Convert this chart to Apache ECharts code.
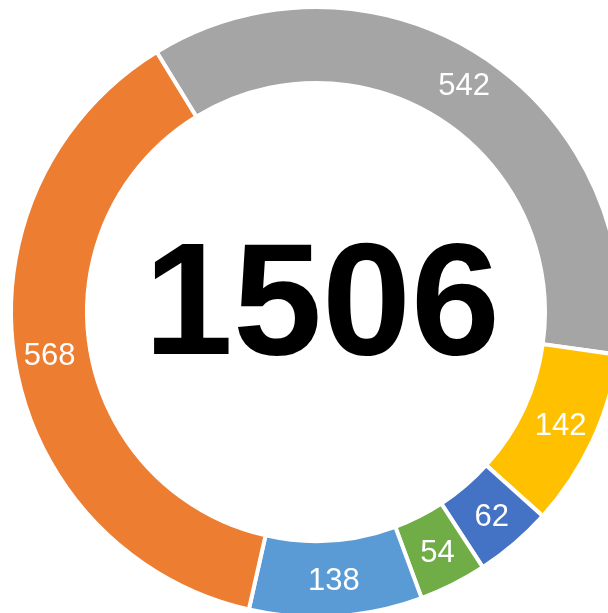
<!DOCTYPE html>
<html>
<head>
<meta charset="utf-8">
<script src="https://cdn.jsdelivr.net/npm/echarts@6/dist/echarts.min.js"></script>
<style>
  html, body { margin: 0; padding: 0; background: #fff; }
  #main { width: 608px; height: 613px; }
</style>
</head>
<body>
<div id="main"></div>
<script>
// donut slices, clockwise from the upper left
var categories = ['Part 1', 'Part 2', 'Part 3', 'Part 4', 'Part 5', 'Part 6'];
var values = [542, 142, 62, 54, 138, 568];
var colors = ['#A5A5A5', '#FFC000', '#4472C4', '#70AD47', '#5B9BD5', '#ED7D31'];
var totalLabel = '1506';

var myChart = echarts.init(document.getElementById('main'));

var pieData = categories.map(function (name, i) {
  return { name: name, value: values[i], itemStyle: { color: colors[i] } };
});

var option = {
  animation: false,
  graphic: [
    {
      type: 'text',
      x: 322,
      y: 310,
      silent: true,
      style: {
        text: totalLabel,
        textAlign: 'center',
        textVerticalAlign: 'middle',
        font: 'bold 160px "Liberation Sans", Arial, sans-serif',
        fill: '#000'
      }
    }
  ],
  series: [
    {
      type: 'pie',
      center: [316, 312],
      radius: [229, 305],
      startAngle: 121.5,
      clockwise: true,
      avoidLabelOverlap: false,
      silent: true,
      itemStyle: {
        borderColor: '#fff',
        borderWidth: 4
      },
      label: {
        show: true,
        position: 'inside',
        formatter: '{c}',
        color: '#fff',
        fontSize: 31,
        padding: [4, 0, 0, 0],
        fontFamily: '"Liberation Sans", Arial, sans-serif'
      },
      labelLine: { show: false },
      emphasis: { disabled: true },
      data: pieData
    }
  ]
};

myChart.setOption(option);
</script>
</body>
</html>
